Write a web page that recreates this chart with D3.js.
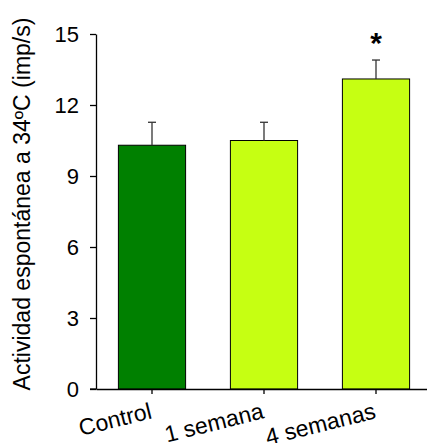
<!DOCTYPE html>
<html>
<head>
<meta charset="utf-8">
<script src="https://cdn.jsdelivr.net/npm/d3@7"></script>
<style>
  body { margin: 0; background: #fff; }
  text { font-family: "Liberation Sans", Arial, sans-serif; fill: #000; }
</style>
</head>
<body>
<div id="chart"></div>
<script>
const categories = ["Control", "1 semana", "4 semanas"];
const means = [10.3, 10.5, 13.1];
const errors = [0.97, 0.77, 0.8];
const barColors = ["#008000", "#c6ff12", "#c6ff12"];
const yTicks = [0, 3, 6, 9, 12, 15];
const significant = [false, false, true];
const yLabel = "Actividad espontánea a 34ºC (imp/s)";

const svgWidth = 427;
const svgHeight = 443;
const margin = { top: 34, right: -5, bottom: 54, left: 96 };
const width = svgWidth - margin.left - margin.right;
const height = svgHeight - margin.top - margin.bottom;

const s = d3.select("#chart")
    .append("svg")
    .attr("width", svgWidth)
    .attr("height", svgHeight);

const svg = s.append("g")
    .attr("transform", "translate(" + margin.left + "," + margin.top + ")");

const xScale = d3.scaleBand()
    .domain(categories)
    .range([0, width])
    .paddingInner(0.4)
    .paddingOuter(0.2);

const yScale = d3.scaleLinear()
    .domain([0, 15])
    .range([height, 0]);

// bars
svg.selectAll(".bar")
    .data(categories)
    .enter()
    .append("rect")
    .attr("class", "bar")
    .attr("x", d => xScale(d))
    .attr("y", (d, i) => yScale(means[i]))
    .attr("width", xScale.bandwidth())
    .attr("height", (d, i) => height - yScale(means[i]))
    .attr("fill", (d, i) => barColors[i])
    .attr("stroke", "#000")
    .attr("stroke-width", 1);

// error bars (upper only)
const err = svg.append("g").attr("stroke", "#333").attr("stroke-width", 1.3);
categories.forEach((c, i) => {
    const cx = xScale(c) + xScale.bandwidth() / 2;
    err.append("line")
        .attr("x1", cx).attr("x2", cx)
        .attr("y1", yScale(means[i]))
        .attr("y2", yScale(means[i] + errors[i]));
    err.append("line")
        .attr("x1", cx - 4).attr("x2", cx + 4)
        .attr("y1", yScale(means[i] + errors[i]))
        .attr("y2", yScale(means[i] + errors[i]));
});

// significance star
svg.selectAll(".star")
    .data(categories.filter((c, i) => significant[i]))
    .enter()
    .append("text")
    .attr("class", "star")
    .attr("x", d => xScale(d) + xScale.bandwidth() / 2)
    .attr("y", d => yScale(means[categories.indexOf(d)] + errors[categories.indexOf(d)]) - 7)
    .attr("text-anchor", "middle")
    .attr("font-size", "30px")
    .attr("font-weight", "bold")
    .text("*");

// y axis
svg.append("g")
    .attr("class", "y-axis")
    .call(d3.axisLeft(yScale)
        .tickValues(yTicks)
        .tickSize(6)
        .tickPadding(11)
        .tickSizeOuter(0))
    .call(g => {
        g.selectAll("text").attr("font-size", "22px").attr("fill", "#000")
            .attr("font-family", "Liberation Sans, Arial, sans-serif");
        g.selectAll("line").attr("stroke", "#000").attr("stroke-width", 1.3);
        g.select(".domain").attr("stroke", "#000").attr("stroke-width", 1.3);
    });

// x axis
svg.append("g")
    .attr("class", "x-axis")
    .attr("transform", "translate(0," + height + ")")
    .call(d3.axisBottom(xScale).tickSize(5).tickSizeOuter(0))
    .call(g => {
        g.select(".domain").attr("stroke", "#000").attr("stroke-width", 1.3);
        g.selectAll("line").attr("stroke", "#000").attr("stroke-width", 1.3);
        g.selectAll("text")
            .attr("font-size", "23px")
            .attr("font-family", "Liberation Sans, Arial, sans-serif")
            .attr("fill", "#000")
            .attr("text-anchor", "end")
            .attr("y", 0)
            .attr("dy", 0)
            .attr("transform", "translate(1,29) rotate(-14)");
    });

// extend x axis line left to the tick end
svg.append("line")
    .attr("x1", -6).attr("x2", 0)
    .attr("y1", height).attr("y2", height)
    .attr("stroke", "#000").attr("stroke-width", 1.3);

// y label
s.append("text")
    .attr("transform", "translate(" + 30 + "," + 204 + ") rotate(-90)")
    .attr("text-anchor", "middle")
    .attr("font-size", "23px")
    .text(yLabel);
</script>
</body>
</html>
